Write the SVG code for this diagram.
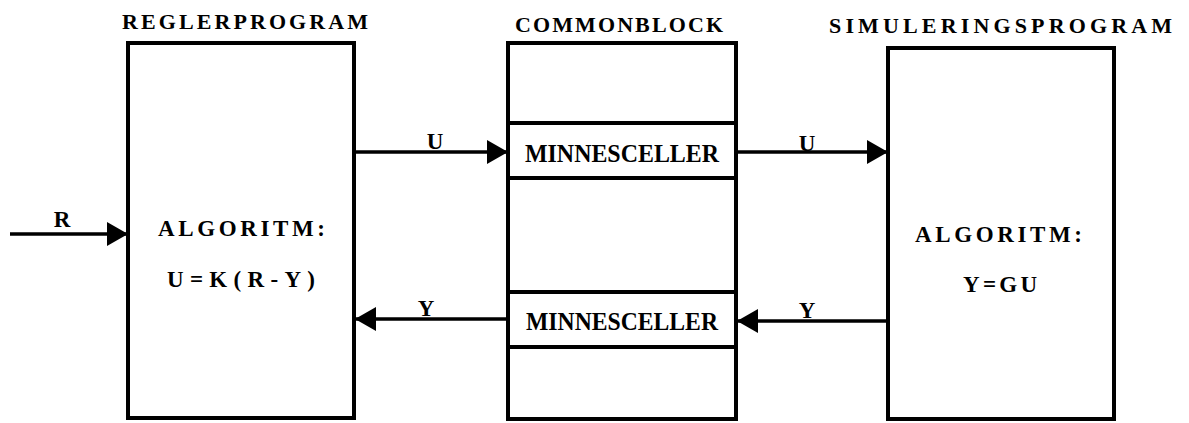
<svg xmlns="http://www.w3.org/2000/svg" width="1189" height="423" viewBox="0 0 1189 423">
  <style>
    .box { fill: #fff; stroke: #000; stroke-width: 4; }
    .div { stroke: #000; stroke-width: 4; }
    .title { font-family: "Liberation Serif", "DejaVu Serif", serif; font-weight: bold; font-size: 22px; fill: #000; }
    .algo { font-family: "Liberation Serif", "DejaVu Serif", serif; font-weight: bold; font-size: 23px; fill: #000; }
    .cell { font-family: "Liberation Serif", "DejaVu Serif", serif; font-weight: bold; font-size: 25px; fill: #000; }
    .sig { font-family: "Liberation Serif", "DejaVu Serif", serif; font-weight: bold; font-size: 23px; fill: #000; text-anchor: middle; }
    .wire { stroke: #000; stroke-width: 3.5; fill: none; marker-end: url(#head); }
  </style>
  <defs>
    <marker id="head" markerUnits="userSpaceOnUse" markerWidth="21" markerHeight="24" refX="20" refY="12" orient="auto">
      <path d="M0,0 L21,12 L0,24 z" fill="#000"/>
    </marker>
  </defs>
  <rect width="1189" height="423" fill="#fff"/>

  <!-- controller program -->
  <g id="regler">
    <text class="title" x="122" y="29" textLength="246" lengthAdjust="spacing">REGLERPROGRAM</text>
    <rect class="box" x="128" y="43" width="226" height="375"/>
    <text class="algo" x="158" y="236" textLength="167" lengthAdjust="spacing">ALGORITM:</text>
    <text class="algo" x="167" y="287" textLength="148" lengthAdjust="spacing">U=K(R-Y)</text>
  </g>

  <!-- shared memory block -->
  <g id="commonblock">
    <text class="title" x="515" y="32" textLength="208" lengthAdjust="spacing">COMMONBLOCK</text>
    <rect class="box" x="508" y="43" width="228" height="376"/>
    <line class="div" x1="508" y1="123" x2="736" y2="123"/>
    <line class="div" x1="508" y1="178" x2="736" y2="178"/>
    <line class="div" x1="508" y1="292" x2="736" y2="292"/>
    <line class="div" x1="508" y1="347" x2="736" y2="347"/>
  </g>
  <g id="cell-u">
    <text class="cell" x="525" y="162" textLength="194" lengthAdjust="spacingAndGlyphs">MINNESCELLER</text>
  </g>
  <g id="cell-y">
    <text class="cell" x="526" y="330" textLength="192" lengthAdjust="spacingAndGlyphs">MINNESCELLER</text>
  </g>

  <!-- simulation program -->
  <g id="simulering">
    <text class="title" x="829" y="33" textLength="343" lengthAdjust="spacing">SIMULERINGSPROGRAM</text>
    <rect class="box" x="888" y="48" width="226" height="371"/>
    <text class="algo" x="915" y="242" textLength="167" lengthAdjust="spacing">ALGORITM:</text>
    <text class="algo" x="963" y="292" textLength="74" lengthAdjust="spacing">Y=GU</text>
  </g>

  <!-- signal connectors -->
  <g id="connectors">
    <line class="wire" x1="10" y1="234" x2="127" y2="234"/>
    <text class="sig" x="62" y="227">R</text>
    <line class="wire" x1="356" y1="152" x2="507" y2="152"/>
    <text class="sig" x="435" y="149">U</text>
    <line class="wire" x1="738" y1="152" x2="887" y2="152"/>
    <text class="sig" x="807" y="151">U</text>
    <line class="wire" x1="506" y1="319" x2="356" y2="319"/>
    <text class="sig" x="426" y="316">Y</text>
    <line class="wire" x1="886" y1="321" x2="738" y2="321"/>
    <text class="sig" x="807" y="318">Y</text>
  </g>
</svg>
